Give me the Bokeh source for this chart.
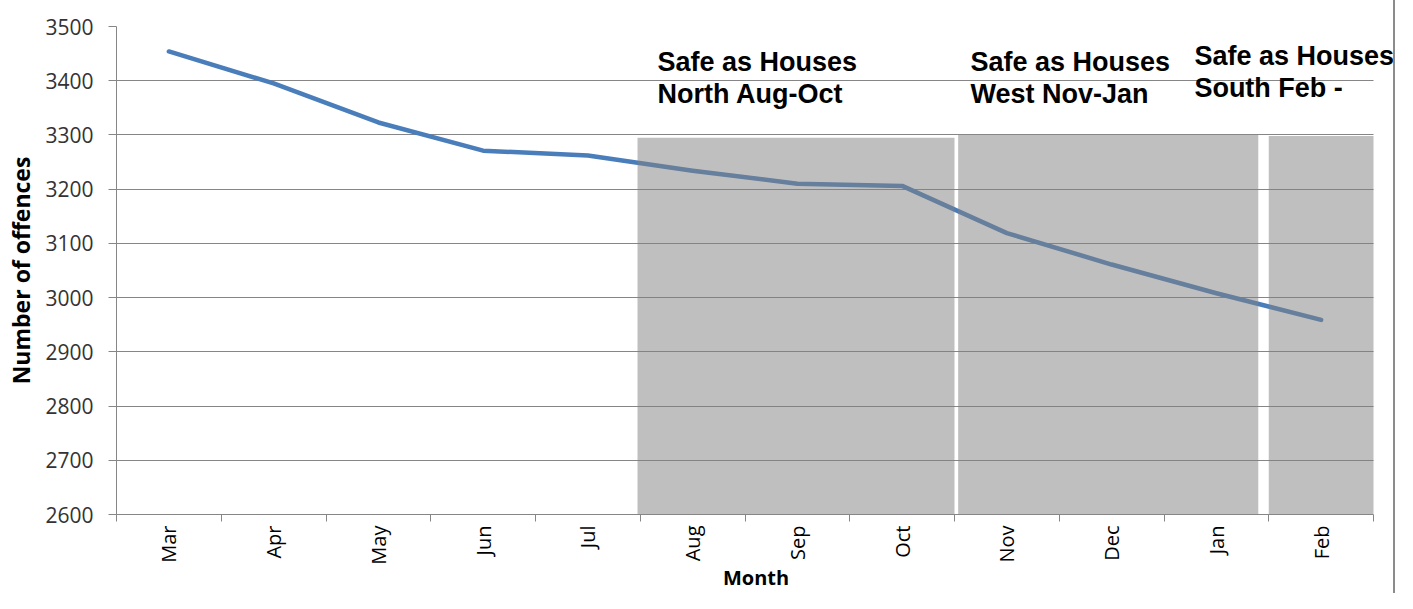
import math
from bokeh.plotting import figure
from bokeh.models import FixedTicker, Label, Range1d
from bokeh.embed import file_html
from bokeh.resources import INLINE

# ---- data ----
months = ["Mar", "Apr", "May", "Jun", "Jul", "Aug", "Sep", "Oct", "Nov", "Dec", "Jan", "Feb"]
offences = [3454, 3395, 3323, 3271, 3262, 3234, 3210, 3206, 3119, 3061, 3008, 2959]
y_ticks = [2600, 2700, 2800, 2900, 3000, 3100, 3200, 3300, 3400, 3500]

campaign_start = ["Aug", "Nov", "Feb"]
campaign_end = ["Oct", "Jan", "Feb"]
campaign_top = [3295, 3300, 3298]
campaign_titles = ["Safe as Houses\nNorth Aug-Oct",
                   "Safe as Houses\nWest Nov-Jan",
                   "Safe as Houses\nSouth Feb -"]

# ---- styling / layout ----
AXIS_GREY = "#868686"
idx = {m: i for i, m in enumerate(months)}
x = list(range(len(months)))
x_lo, x_hi = -0.5, len(months) - 0.5
x_extra = 0.21   # room on the right for the last title

p = figure(width=1395, height=593,
           x_range=Range1d(x_lo, x_hi + x_extra),
           y_range=Range1d(y_ticks[0], y_ticks[-1]),
           output_backend="svg", toolbar_location=None,
           min_border_left=116, min_border_right=0,
           min_border_top=26, min_border_bottom=79)
p.outline_line_color = None
p.background_fill_color = "white"
p.border_fill_color = "white"
p.styles = {"border-right": "2px solid #8c8c8c"}

# grid
p.xgrid.visible = False
p.ygrid.grid_line_color = AXIS_GREY
p.ygrid.grid_line_width = 1
p.ygrid.level = "underlay"
for g in p.ygrid:
    if "cross_bounds" in g.properties():
        g.cross_bounds = (x_lo, x_hi)

# y axis
p.yaxis.ticker = FixedTicker(ticks=y_ticks)
p.yaxis.axis_line_color = AXIS_GREY
p.yaxis.major_tick_line_color = AXIS_GREY
p.yaxis.major_tick_out = 8
p.yaxis.major_tick_in = 0
p.yaxis.minor_tick_line_color = None
p.yaxis.major_label_text_font = "Open Sans"
p.yaxis.major_label_text_font_size = "21px"
p.yaxis.major_label_text_color = "#333333"
p.yaxis.major_label_standoff = 15
p.yaxis.axis_label = "Number of offences"
p.yaxis.axis_label_text_font = "Open Sans"
p.yaxis.axis_label_text_font_style = "bold"
p.yaxis.axis_label_text_font_size = "23px"
p.yaxis.axis_label_text_color = "black"
p.yaxis.axis_label_standoff = 5

# x axis
boundaries = [i - 0.5 for i in range(len(months) + 1)]
p.xaxis.bounds = (x_lo, x_hi)
p.xaxis.ticker = FixedTicker(ticks=x, minor_ticks=boundaries)
p.xaxis.major_label_overrides = {i: m for i, m in enumerate(months)}
p.xaxis.axis_line_color = AXIS_GREY
p.xaxis.major_tick_line_color = None
p.xaxis.major_tick_out = 0
p.xaxis.major_tick_in = 0
p.xaxis.minor_tick_line_color = AXIS_GREY
p.xaxis.minor_tick_out = 7
p.xaxis.minor_tick_in = 0
p.xaxis.major_label_orientation = math.pi / 2
p.xaxis.major_label_text_font = "Open Sans"
p.xaxis.major_label_text_font_size = "20px"
p.xaxis.major_label_text_color = "black"
p.xaxis.major_label_standoff = 4
p.xaxis.axis_label = "Month"
p.xaxis.axis_label_text_font = "Open Sans"
p.xaxis.axis_label_text_font_style = "bold"
p.xaxis.axis_label_text_font_size = "20px"
p.xaxis.axis_label_text_color = "black"
p.xaxis.axis_label_standoff = -4

# line series
p.line(x=x, y=offences, line_color="#4A7EBB", line_width=4.5,
       line_join="round", line_cap="round")

# campaign blocks (semi-transparent, drawn over the line)
pad_left = [-0.026, 0.035, 0.0]
pad_right = [0.0, -0.1, 0.0]
lefts = [idx[s] - 0.5 + pl for s, pl in zip(campaign_start, pad_left)]
rights = [idx[e] + 0.5 + pr for e, pr in zip(campaign_end, pad_right)]
p.quad(left=lefts, right=rights, bottom=y_ticks[0], top=campaign_top,
       fill_color="#808080", fill_alpha=0.5, line_color=None)

# campaign titles
label_x = [4.665, 7.653, 9.79]
label_y = [3434, 3434, 3445]
line_step = 59
for title, lx, ly in zip(campaign_titles, label_x, label_y):
    for k, line in enumerate(title.split("\n")):
        p.add_layout(Label(x=lx, y=ly - k * line_step, text=line,
                           x_units="data", y_units="data",
                           text_font="Liberation Sans", text_font_style="bold",
                           text_font_size="27px", text_color="black",
                           text_baseline="alphabetic", text_align="left"))

open("out.html", "w").write(file_html(p, INLINE))
